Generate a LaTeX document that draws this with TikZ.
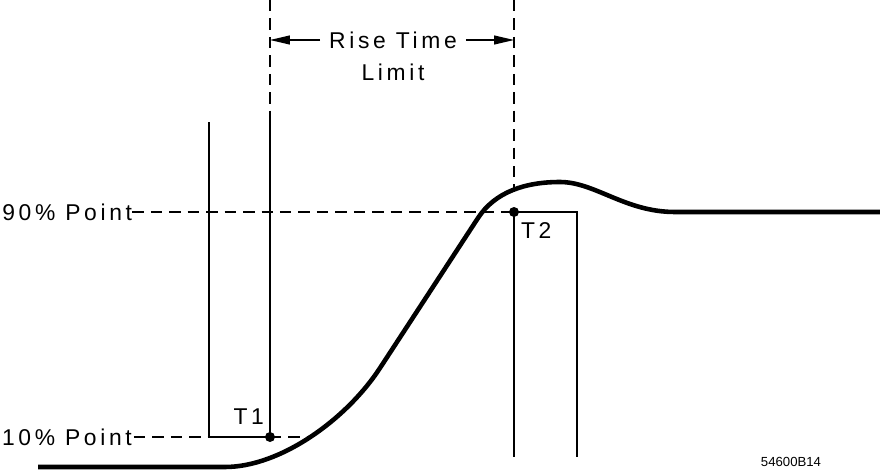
\documentclass[tikz,border=0pt]{standalone}
\usepackage{fontspec}
\newfontfamily\plotfont{Liberation Sans}[LetterSpace=16]
\newfontfamily\tagfont{Liberation Sans}
\usepackage{tikz}
\usetikzlibrary{arrows.meta,positioning}

\begin{document}
\begin{tikzpicture}[x=0.02cm, y=-0.02cm,
    thinline/.style={line width=0.65pt},
    dashline/.style={line width=0.65pt, dash pattern=on 6.5pt off 4pt},
    signal/.style={line width=2.6pt, line join=round},
    label/.style={font=\plotfont\fontsize{13}{15}\selectfont, inner sep=1pt},
    tpoint/.style={circle, fill, inner sep=0pt, minimum size=0.2cm},
    limitarrow/.style={-{Triangle[length=4mm,width=1.8mm]}, line width=0.65pt}
]
\clip (0,0) rectangle (880,470);

\coordinate (t1top) at (270,0);
\coordinate (t1mid) at (270,122);
\coordinate (t1) at (270,437);
\coordinate (t2top) at (514,0);
\coordinate (t2cross) at (514,188);
\coordinate (t2) at (514,212);
\coordinate (t2bot) at (514,457);
\coordinate (boxLtop) at (209,122);
\coordinate (boxLbot) at (209,437);
\coordinate (boxRtop) at (577,212);
\coordinate (boxRbot) at (577,457);
\coordinate (cross10) at (313,437);

\node[label, anchor=west, inner xsep=0pt] (p90) at (2,212) {90\% Point\hspace{4pt}};
\node[label, anchor=west] (p10) at (0,437) {10\% Point};
\node[label, inner xsep=5pt] (rise) at (393,40) {Rise Time};
\node[label] (limit) at (393,72) {Limit};
\node[label, anchor=south east] (t1lab) at (266,427) {T1};
\node[label, anchor=north west] (t2lab) at (519,220) {T2};
\node[font=\tagfont\fontsize{7.5}{9}\selectfont, inner sep=0pt] (tag) at (791,462) {54600B14};

\draw[dashline] (t1top) -- (t1mid);
\draw[thinline] (t1mid) -- (t1);
\draw[dashline] (t2top) -- (t2cross);
\draw[thinline] (boxLtop) -- (boxLbot) -- (t1);
\draw[thinline] (t2) -- (boxRtop) -- (boxRbot);
\draw[thinline] (t2) -- (t2bot);
\draw[dashline] (p90) -- (t2);
\draw[dashline] (p10) -- (boxLbot);
\draw[dashline] (t1) -- (cross10);

\draw[limitarrow] (rise) -- (t1top |- rise);
\draw[limitarrow] (rise) -- (t2top |- rise);

\draw[signal] (38,467) -- (225,467)
    .. controls (280,467) and (346,420) .. (380,368) -- (478,218)
    .. controls (495,192) and (525,182) .. (560,182)
    .. controls (595,182) and (625,212) .. (675,212) -- (880,212);

\node[tpoint] (t1dot) at (t1) {};
\node[tpoint] (t2dot) at (t2) {};
\end{tikzpicture}
\end{document}
